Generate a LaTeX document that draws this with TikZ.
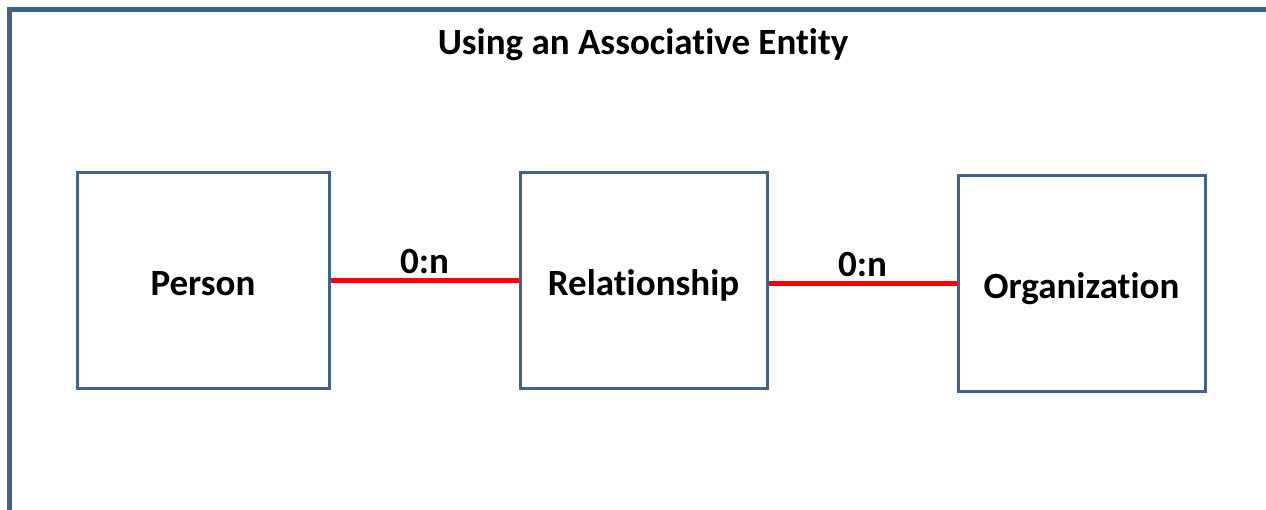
\documentclass[tikz,border=0pt]{standalone}
\usepackage{fontspec}
\setmainfont{Carlito}[Ligatures=NoCommon]
\usetikzlibrary{positioning,calc}
\definecolor{frameblue}{HTML}{41628F}
\definecolor{linkred}{HTML}{FF0000}
\begin{document}
\begin{tikzpicture}[x=1pt,y=-1pt, line join=miter,
  entity/.style={draw=frameblue, line width=3pt, fill=white, minimum width=#1, minimum height=216pt, inner sep=0pt, font=\bfseries\fontsize{37}{44}\selectfont, text height=30pt, text depth=0pt},
  link/.style={draw=linkred, line width=5pt},
  card/.style={font=\bfseries\fontsize{37}{44}\selectfont, above=2pt, inner sep=2pt}]
\useasboundingbox (0,0) rectangle (1266,509);
\coordinate (f1) at (9,520);
\coordinate (f2) at (9,9);
\coordinate (f3) at (1280,9);
\draw[frameblue, line width=5pt] (f1)--(f2)--(f3);
\node[font=\bfseries\fontsize{37}{44}\selectfont] (title) at (643,45) {Using an Associative Entity};
\node[entity=252pt] (person) at (203,280) {Person};
\node[entity=247pt] (rel) at (643.5,280) {Relationship};
\node[entity=247pt] (org) at (1081.5,283) {Organization};
\draw[link] (person.east) -- node[card] (c1) {0:n} (rel.west);
\draw[link] (rel.east |- org.west) -- node[card] (c2) {0:n} (org.west);
\end{tikzpicture}
\end{document}
